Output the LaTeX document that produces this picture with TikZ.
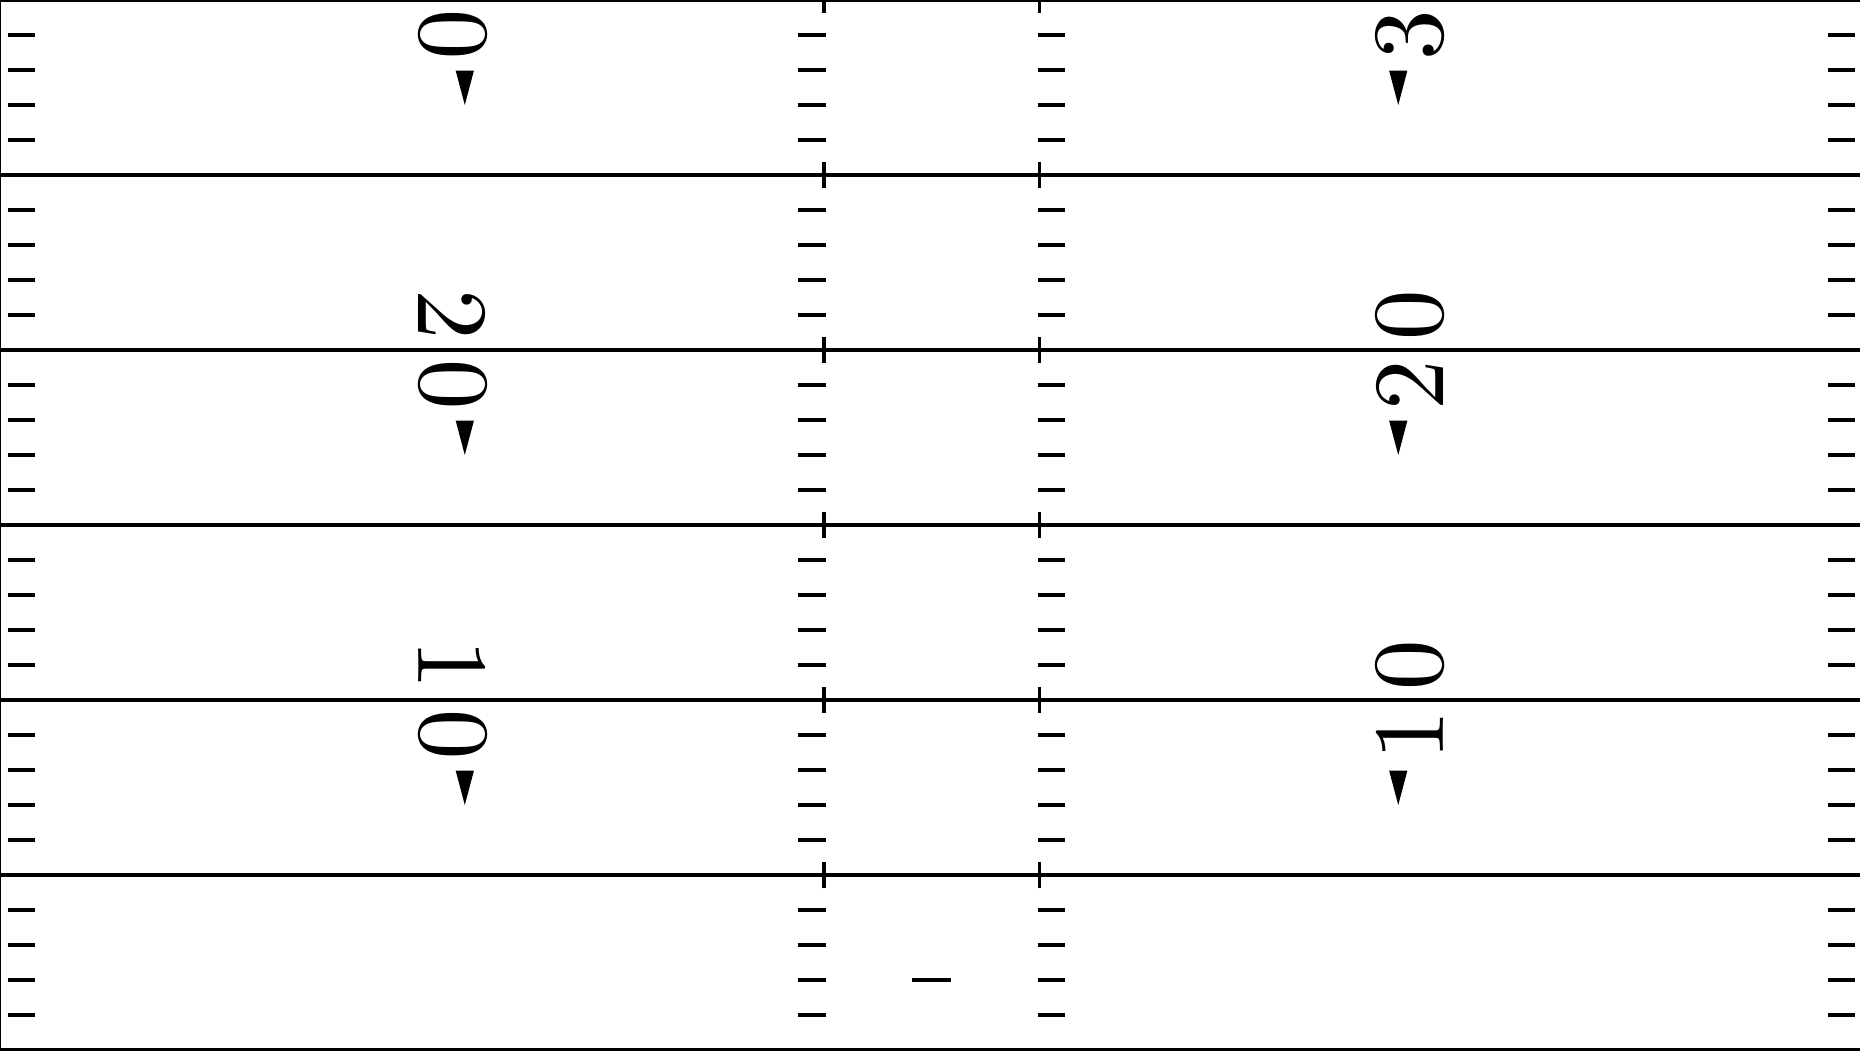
\documentclass[tikz,border=0pt]{standalone}
\usepackage{xcolor}
\usepackage{tikz}
\usetikzlibrary{calc}
\definecolor{paint}{HTML}{000000}
\definecolor{turf}{HTML}{FFFFFF}

\begin{document}
\begin{tikzpicture}[x=0.5cm, y=0.5cm,
  yardline/.style={paint, line width=1.6pt},
  hashmark/.style={paint, line width=1.3pt},
  fieldnum/.style={font=\normalsize, text=paint, inner sep=0pt, scale=4.1}]

% Field width in yards (visible part), height is 30 yards
\def\fw{53.143}
\useasboundingbox (0,0) rectangle (\fw,30);
\clip (0,0) rectangle (\fw,30);
\fill[turf] (0,0) rectangle (\fw,30);

% Sidelines
\draw[paint, line width=0.3pt] (0,0) -- (0,30);
\draw[paint, line width=0.3pt] (\fw,0) -- (\fw,30);

% Goal line
\draw[yardline] (0,0) -- (\fw,0);

% Yard lines every 5 yards, with hash crossings
\foreach \y in {5,10,...,30} {
  \draw[yardline] (0,\y) -- (\fw,\y);
  \draw[hashmark] (23.54,\y-0.38) -- (23.54,\y+0.38);
  \draw[hashmark] (29.71,\y-0.38) -- (29.71,\y+0.38);
}

% One-yard marks: sidelines and hashes
\foreach \b in {0,5,...,25}
  \foreach \k in {1,2,3,4} {
    \draw[hashmark] (0.23,\b+\k) -- (1.0,\b+\k);
    \draw[hashmark] (22.8,\b+\k) -- (23.6,\b+\k);
    \draw[hashmark] (29.66,\b+\k) -- (30.43,\b+\k);
    \draw[hashmark] (52.23,\b+\k) -- (53.0,\b+\k);
  }

% Try-point mark, 2 yards out
\draw[hashmark] (26.06,2) -- (27.17,2);

% Numbers, left side (read downwards)
\node[fieldnum, rotate=-90] (l30b) at (12.93,29) {0};
\node[fieldnum, rotate=-90] (l20a) at (12.93,21) {2};
\node[fieldnum, rotate=-90] (l20b) at (12.93,19) {0};
\node[fieldnum, rotate=-90] (l10a) at (12.93,11) {1};
\node[fieldnum, rotate=-90] (l10b) at (12.93,9) {0};

% Numbers, right side (read upwards)
\node[fieldnum, rotate=90] (r30a) at (40.29,29) {3};
\node[fieldnum, rotate=90] (r20b) at (40.29,21) {0};
\node[fieldnum, rotate=90] (r20a) at (40.29,19) {2};
\node[fieldnum, rotate=90] (r10b) at (40.29,11) {0};
\node[fieldnum, rotate=90] (r10a) at (40.29,9) {1};

% Direction arrows
\foreach \y in {30,20,10} {
  \fill[paint] (13.02,\y-2.02) -- (13.54,\y-2.02) -- (13.28,\y-3) -- cycle;
  \fill[paint] (39.69,\y-2.02) -- (40.21,\y-2.02) -- (39.95,\y-3) -- cycle;
}

\end{tikzpicture}
\end{document}
